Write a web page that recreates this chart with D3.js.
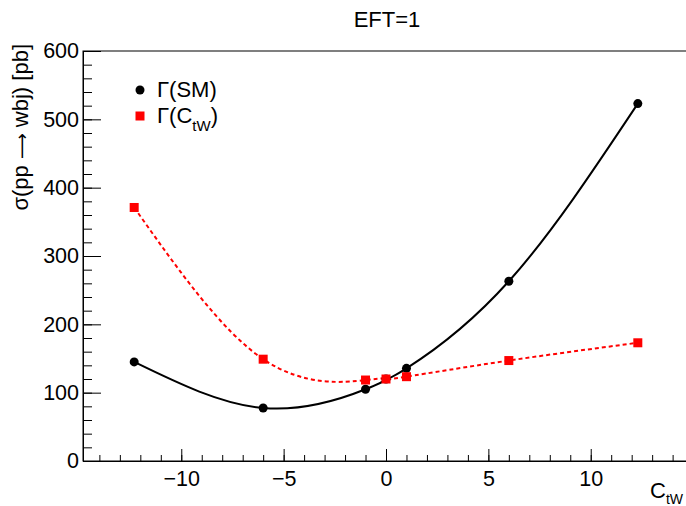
<!DOCTYPE html>
<html>
<head>
<meta charset="utf-8">
<script src="https://cdn.jsdelivr.net/npm/d3@7"></script>
<style>
  body { margin: 0; background: #fff; }
  text { font-family: "Liberation Sans", Arial, Helvetica, sans-serif; }
</style>
</head>
<body>
<script>
// data
const ctw = [-12.3, -6, -1, 0, 1, 6, 12.3]
const sigmaSM = [145, 77.6, 105, 120, 135.6, 263, 523]
const sigmaCtw = [371, 149, 118.5, 120, 123.4, 147, 173]
const xTicks = [-10, -5, 0, 5, 10]
const yTicks = [0, 100, 200, 300, 400, 500, 600]

const width = 686
const height = 506

// canvas
let svg = d3.select("body")
    .append("svg")
    .attr("width", width)
    .attr("height", height)
    .style("background-color", "#fff")

// frame of the pad
const padLeft = 83, padRight = 689, padTop = 51, padBottom = 461

const x = d3.scaleLinear().domain([-14.8, 14.8]).range([padLeft, padRight])
const y = d3.scaleLinear().domain([0, 600]).range([padBottom, padTop])

svg.append("rect")
    .attr("x", padLeft)
    .attr("y", padTop)
    .attr("width", padRight - padLeft)
    .attr("height", padBottom - padTop)
    .attr("fill", "none")
    .attr("stroke", "#000")
    .attr("stroke-width", 1)

// x axis, minor ticks first, then major ticks with labels
svg.append("g")
    .attr("transform", `translate(0,${padBottom})`)
    .call(d3.axisBottom(x).tickValues(d3.range(-14, 15, 1)).tickSize(-6).tickFormat(""))
    .call(g => g.select(".domain").remove())

const xAxis = svg.append("g")
    .attr("transform", `translate(0,${padBottom})`)
    .call(d3.axisBottom(x).tickValues(xTicks).tickSize(-12).tickSizeOuter(0).tickPadding(10))
xAxis.selectAll("text").attr("font-size", 21.5).attr("fill", "#000").attr("font-family", null)

// y axis
svg.append("g")
    .attr("transform", `translate(${padLeft},0)`)
    .call(d3.axisLeft(y).tickValues(d3.range(0, 601, 20)).tickSize(-9).tickFormat(""))
    .call(g => g.select(".domain").remove())

const yAxis = svg.append("g")
    .attr("transform", `translate(${padLeft},0)`)
    .call(d3.axisLeft(y).tickValues(yTicks).tickSize(-18).tickSizeOuter(0).tickPadding(4))
yAxis.selectAll("text").attr("font-size", 21.5).attr("fill", "#000").attr("font-family", null)

svg.selectAll(".tick line").attr("stroke", "#000")
svg.selectAll(".domain").attr("stroke", "#000")

// curves through the points
const line = d3.line()
    .x((d, i) => x(ctw[i]))
    .y(d => y(d))
    .curve(d3.curveNatural)

svg.append("path")
    .attr("d", line(sigmaSM))
    .attr("fill", "none")
    .attr("stroke", "#000")
    .attr("stroke-width", 2)

svg.append("path")
    .attr("d", line(sigmaCtw))
    .attr("fill", "none")
    .attr("stroke", "#ff0000")
    .attr("stroke-width", 2)
    .attr("stroke-dasharray", "4,3")

// markers
svg.selectAll(".sm")
    .data(sigmaSM)
    .enter()
    .append("circle")
    .attr("class", "sm")
    .attr("cx", (d, i) => x(ctw[i]))
    .attr("cy", d => y(d))
    .attr("r", 4.5)
    .attr("fill", "#000")

svg.selectAll(".ctw")
    .data(sigmaCtw)
    .enter()
    .append("rect")
    .attr("class", "ctw")
    .attr("x", (d, i) => x(ctw[i]) - 4.5)
    .attr("y", d => y(d) - 4.5)
    .attr("width", 9)
    .attr("height", 9)
    .attr("fill", "#ff0000")

// legend
svg.append("circle")
    .attr("cx", 140)
    .attr("cy", 90)
    .attr("r", 4.5)
    .attr("fill", "#000")

svg.append("text")
    .attr("x", 157)
    .attr("y", 97)
    .attr("font-size", 22)
    .text("Γ(SM)")

svg.append("rect")
    .attr("x", 135.5)
    .attr("y", 111.5)
    .attr("width", 9)
    .attr("height", 9)
    .attr("fill", "#ff0000")

const leg2 = svg.append("text")
    .attr("x", 157)
    .attr("y", 123)
    .attr("font-size", 22)
leg2.append("tspan").text("Γ(C")
leg2.append("tspan").attr("dy", 8).attr("font-size", 15).text("tW")
leg2.append("tspan").attr("dy", -8).text(")")

// title
svg.append("text")
    .attr("x", 387)
    .attr("y", 27)
    .attr("text-anchor", "middle")
    .attr("font-size", 22)
    .text("EFT=1")

// axis titles
const yt = svg.append("text")
    .attr("transform", "translate(28,44) rotate(-90)")
    .attr("text-anchor", "end")
    .attr("font-size", 22)
yt.append("tspan").text("σ(pp ")
yt.append("tspan").attr("font-family", "DejaVu Sans").attr("font-size", 18).text("⟶")
yt.append("tspan").text(" wbj) [pb]")

const xt = svg.append("text")
    .attr("x", 650)
    .attr("y", 498)
    .attr("font-size", 22)
xt.append("tspan").text("C")
xt.append("tspan").attr("dy", 6).attr("font-size", 14).text("tW")
</script>
</body>
</html>
